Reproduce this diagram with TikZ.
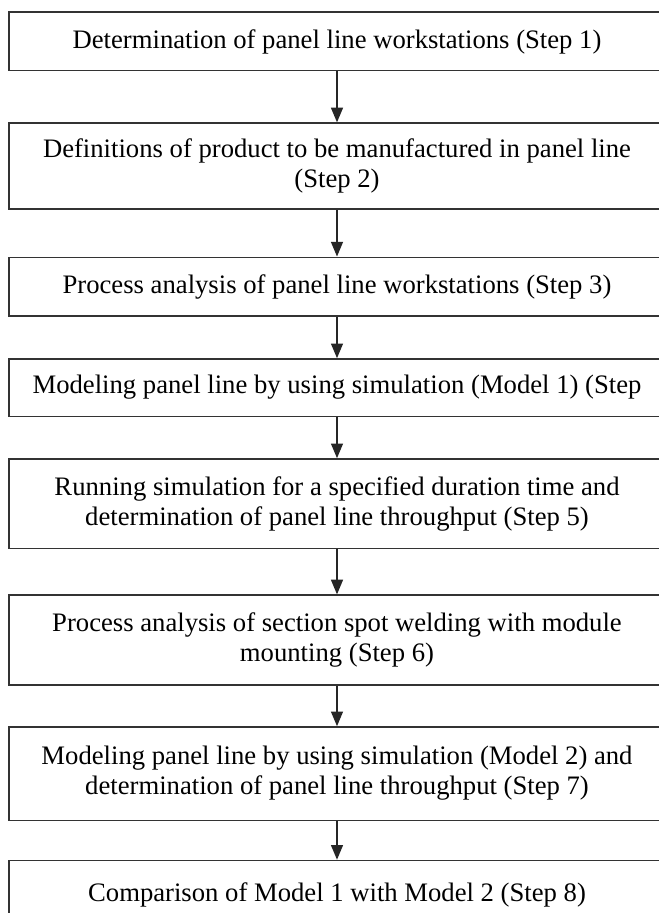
\documentclass[tikz,border=0pt]{standalone}
\usepackage{fontspec}
\setmainfont{Liberation Serif}
\usetikzlibrary{arrows.meta}
\begin{document}
\begin{tikzpicture}[x=0.75pt,y=-0.75pt,
    stepbox/.style={rectangle,draw=black!80,line width=1pt,minimum width=492pt,
      inner sep=0pt,align=center,font=\fontsize{20}{22.5}\selectfont},
    flow/.style={draw=black!85,line width=1pt,-{Triangle[length=11pt,width=9pt]}}]
      \clip (0,0) rectangle (659,913);
      \fill[white] (0,0) rectangle (659,913);
      \node[stepbox,minimum height=44pt] (workst) at (337,41.5)
           {Determination of panel line workstations (Step 1)};
      \node[stepbox,minimum height=64.5pt] (product) at (337,166)
           {Definitions of product to be manufactured in panel line\\(Step 2)};
      \node[stepbox,minimum height=44pt] (procana) at (337,286.5)
           {Process analysis of panel line workstations (Step 3)};
      \node[stepbox,minimum height=43pt] (model1) at (337,387.5)
           {Modeling panel line by using simulation (Model 1) (Step};
      \node[stepbox,minimum height=67pt] (running) at (337,503.5)
           {Running simulation for a specified duration time and\\determination of panel line throughput (Step 5)};
      \node[stepbox,minimum height=67.5pt] (spotweld) at (337,640)
           {Process analysis of section spot welding with module\\mounting (Step 6)};
      \node[stepbox,minimum height=70pt] (model2) at (337,773.5)
           {Modeling panel line by using simulation (Model 2) and\\determination of panel line throughput (Step 7)};
      \node[stepbox,minimum height=52pt] (compare) at (337,895)
           {Comparison of Model 1 with Model 2 (Step 8)};

      \draw[flow] (workst) to (product);
      \draw[flow] (product) to (procana);
      \draw[flow] (procana) to (model1);
      \draw[flow] (model1) to (running);
      \draw[flow] (running) to (spotweld);
      \draw[flow] (spotweld) to (model2);
      \draw[flow] (model2) to (compare);
    \end{tikzpicture}
\end{document}
